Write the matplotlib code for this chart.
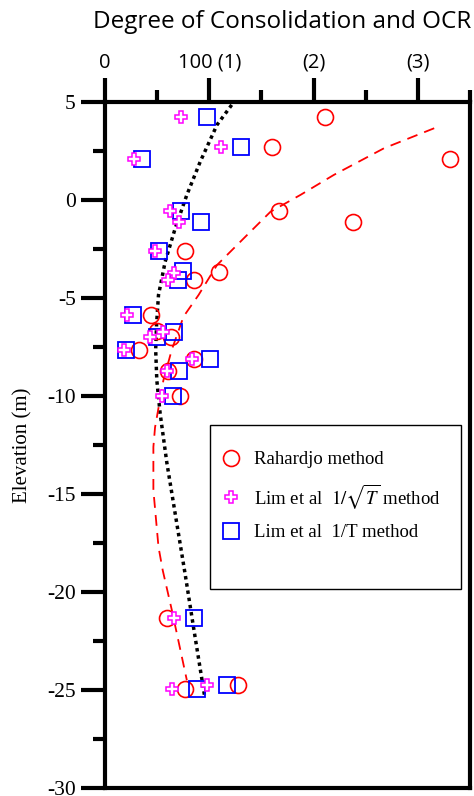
"""Degree of consolidation / OCR versus elevation for three interpretation methods."""
import matplotlib
matplotlib.use("Agg")
import matplotlib.pyplot as plt
from matplotlib.patches import Rectangle
from matplotlib.ticker import MultipleLocator

plt.rcParams.update({
    "font.family": "Liberation Serif",
    "mathtext.fontset": "stix",
})

SANS = "Open Sans"

# Rahardjo method (circles)
rah_x = [210.6, 160.0, 330.8, 167.3, 238.0, 77.0, 109.0, 85.0, 44.5, 49.7,
         63.0, 32.8, 85.8, 60.5, 72.1, 59.3, 77.2, 127.5]
rah_z = [4.25, 2.72, 2.09, -0.54, -1.10, -2.58, -3.66, -4.08, -5.87, -6.70,
         -7.00, -7.65, -8.11, -8.71, -9.98, -21.3, -24.97, -24.75]

# Lim et al 1/sqrt(T) method (plus)
sqrt_x = [73.0, 111.0, 27.6, 62.5, 70.5, 47.8, 65.7, 60.9, 20.8, 42.8,
          56.0, 18.5, 83.0, 59.3, 54.5, 66.3, 64.1, 97.8]
sqrt_z = [4.25, 2.72, 2.09, -0.54, -1.10, -2.58, -3.72, -4.08, -5.87, -7.00,
          -6.74, -7.65, -8.11, -8.74, -9.98, -21.3, -24.97, -24.75]

# Lim et al 1/T method (squares)
inv_x = [97.8, 130.8, 35.9, 72.8, 92.3, 52.2, 74.6, 69.7, 27.2, 50.0,
         65.7, 20.0, 100.3, 70.5, 65.0, 85.6, 88.1, 116.9]
inv_z = [4.25, 2.72, 2.09, -0.54, -1.10, -2.58, -3.60, -4.09, -5.87, -7.00,
         -6.75, -7.65, -8.11, -8.71, -9.98, -21.3, -24.97, -24.75]

# trend lines
trend_u_x = [121.5, 107.4, 91.3, 78.5, 67.3, 57.7, 51.3, 49.5, 48.6, 49.7,
             52.9, 59.3, 67.3, 76.9, 84.9, 95.5]
trend_u_z = [4.85, 3.83, 1.95, 0.26, -1.45, -3.15, -4.85, -6.3, -7.65, -9.2,
             -10.9, -13.4, -16.0, -19.1, -21.8, -25.3]

trend_ocr_x = [315.7, 267.6, 219.5, 187.5, 158.7, 136.2, 107.4, 89.7, 75.3,
               64.0, 56.0, 48.0, 46.4, 46.4, 51.3, 55.4, 64.0, 78.5]
trend_ocr_z = [3.66, 2.64, 1.28, 0.26, -0.60, -1.79, -3.32, -4.85, -5.95,
               -7.65, -9.2, -11.6, -12.6, -14.8, -17.7, -18.9, -20.9, -24.5]

x_ticks = [0, 100, 200, 300]
x_tick_labels = ["0", "100 (1)", "(2)", "(3)"]
y_ticks = [5, 0, -5, -10, -15, -20, -25, -30]

fig = plt.figure(figsize=(4.74, 7.96), dpi=100)
ax = fig.add_axes([0.2215, 0.0100, 0.7700, 0.8619])

ax.plot(trend_u_x, trend_u_z, color="black", lw=2.5,
        linestyle=(0, (1.0, 1.1)), zorder=2)
ax.plot(trend_ocr_x, trend_ocr_z, color="red", lw=1.3,
        linestyle=(0, (6, 4)), zorder=2)

ax.plot(rah_x, rah_z, "o", ms=11.5, mfc="none", mec="red", mew=1.2,
        ls="none", label="Rahardjo method", zorder=3)
ax.plot(sqrt_x, sqrt_z, "P", ms=8.5, mfc="white", mec="magenta", mew=1.1,
        ls="none", label=r"Lim et al  $1/\sqrt{T}$ method", zorder=4)
ax.plot(inv_x, inv_z, "s", ms=11.5, mfc="none", mec="blue", mew=1.3,
        ls="none", label="Lim et al  1/T method", zorder=3)

ax.set_xlim(0, 350)
ax.set_ylim(-30, 5)

ax.xaxis.tick_top()
ax.set_xticks(x_ticks)
ax.set_xticklabels(x_tick_labels, fontsize=14.5, family=SANS)
ax.xaxis.set_minor_locator(MultipleLocator(50))
ax.set_yticks(y_ticks)
ax.set_yticklabels([str(v) for v in y_ticks], fontsize=15.5)
ax.yaxis.set_minor_locator(MultipleLocator(2.5))
ax.tick_params(which="major", direction="out", length=17, width=3, pad=4)
ax.tick_params(which="minor", direction="out", length=9, width=3)

for side in ["left", "right", "top", "bottom"]:
    ax.spines[side].set_linewidth(3)

ax.set_ylabel("Elevation (m)", fontsize=15)
ax.yaxis.set_label_coords(-0.20, 0.5)

# legend box
ax.add_patch(Rectangle((0.288, 0.29), 0.687, 0.239, transform=ax.transAxes,
                       facecolor="white", edgecolor="black", lw=1.0, zorder=5))
leg = ax.legend(loc="upper left", bbox_to_anchor=(0.30, 0.502),
                frameon=False, fontsize=13.5, handlelength=1.0,
                handletextpad=0.7, labelspacing=0.72, borderaxespad=0)
leg.set_zorder(6)

fig.text(0.595, 0.972, "Degree of Consolidation and OCR", ha="center",
         va="center", fontsize=17.5, family=SANS)

plt.savefig("out.png", dpi=100)
plt.close()
